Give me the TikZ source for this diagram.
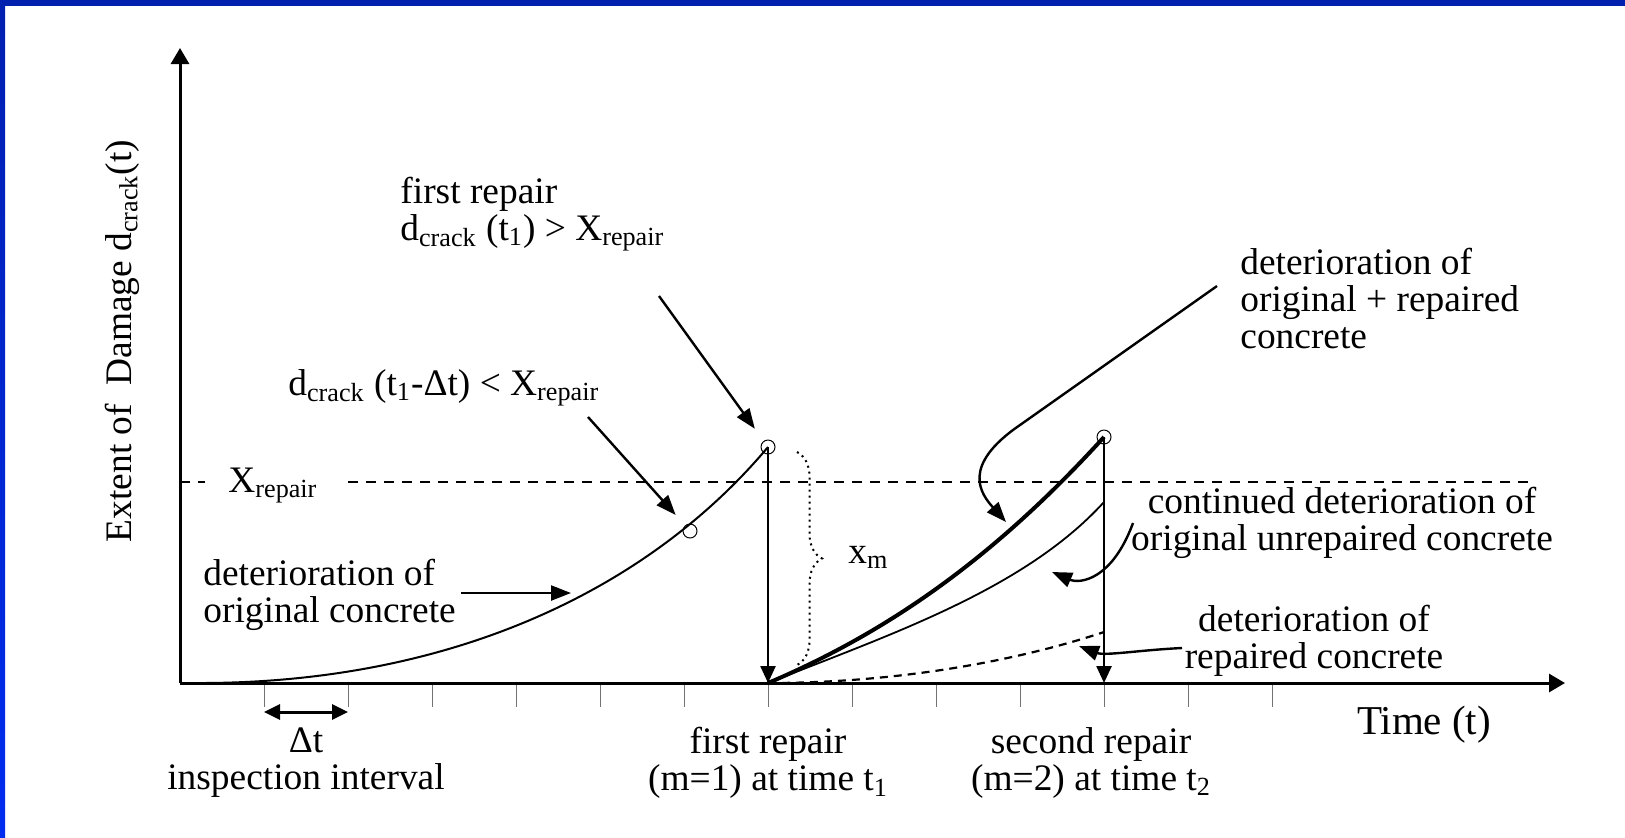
\documentclass[tikz,border=0pt]{standalone}
\usepackage{fontspec}
\setmainfont{Liberation Serif}
\usetikzlibrary{arrows.meta,decorations.pathreplacing}
\definecolor{frameblue}{RGB}{0,32,176}
\definecolor{framebright}{RGB}{0,44,240}
\newcommand{\labelfont}{\fontsize{18.7}{18.5}\selectfont}
\newcommand{\axisfont}{\fontsize{20.5}{20.5}\selectfont}

\begin{document}
\begin{tikzpicture}[
			x=0.5pt,y=-0.5pt,
			lbl/.style={inner sep=0pt,font=\labelfont,align=center},
			lbll/.style={lbl,align=left},
			axis/.style={line width=1.5pt,-{Triangle[length=8pt,width=9pt]}},
			tick/.style={line width=0.5pt,black!55},
			ring/.style={circle,draw,line width=0.5pt,minimum size=7pt,inner sep=0pt},
			drop/.style={line width=1.2pt,-{Triangle[length=8.5pt,width=7.5pt]}},
			note/.style={line width=1.2pt,-{Triangle[length=10pt,width=7.5pt]}},
			span/.style={line width=1.5pt,{Triangle[length=8pt,width=7.5pt]}-{Triangle[length=8pt,width=7.5pt]}},
			threshold/.style={line width=0.8pt,dash pattern=on 5pt off 4pt}
			]
			
			\useasboundingbox (0,0) rectangle (1625,837);
			\fill[frameblue] (0,0) rectangle (1625,6);
			\shade[top color=frameblue,bottom color=framebright] (0,0) rectangle (5,837);
			
			\coordinate (o) at (180,683);
			\coordinate (xend) at (1565,683);
			\coordinate (yend) at (180,48);
			\coordinate (r1) at (768,683);
			\coordinate (r2) at (1104,683);
			
			\foreach \k in {1,...,13}
				\draw[tick] ({180+84*\k},683) -- ({180+84*\k},707);
			\draw[axis] (o) -- (xend);
			\draw[axis] (o) -- (yend);
			
			\node[lbl,rotate=90] (ylab) at (122,341) {Extent of \ Damage d\textsubscript{crack}(t)};
			\node[lbl,font=\axisfont] (tlab) at (1424,725) {Time (t)};
			
			\coordinate (dt0) at (264,712);
			\coordinate (dt1) at (348,712);
			\draw[span] (dt0) -- (dt1);
			\node[lbl] (dtlab) at (306,763) {Δt\\inspection interval};
			\node[lbl] (rep1lab) at (768,763) {first repair\\(m=1) at time t\textsubscript{1}};
			\node[lbl] (rep2lab) at (1091,763) {second repair\\(m=2) at time t\textsubscript{2}};
			
			\node[lbl,anchor=base west] (xlab) at (228,492) {X\textsubscript{repair}};
			\coordinate (thr) at (180,482);
			\draw[threshold] (thr) -- ++(25,0);
			\draw[threshold] (348,482) -- (1530,482);
			
			\node[ring] (p0) at (690,531) {};
			\node[ring] (p1) at (768,447) {};
			\node[ring] (p2) at (1104,437) {};
			
			\draw[line width=1pt] (200,683) .. controls (450,683) and (647,591) .. (p1.center);
			\draw[line width=2pt] (r1) .. controls (888,632) and (994,558) .. (p2.center);
			\draw[line width=0.9pt] (r1) .. controls (888,635) and (1024,590) .. (1104,502);
			\draw[line width=1.1pt,dash pattern=on 4pt off 3pt] (r1) .. controls (900,683) and (1020,660) .. (1104,632);
			
			\draw[drop] (p1.center) -- (r1);
			\draw[drop] (p2.center) -- (r2);
			
			\draw[line width=1pt,dotted,decorate,decoration={brace,amplitude=12.5pt}] (797,452) -- (797,665);
			\node[lbl,anchor=base west] (xmlab) at (848,563) {x\textsubscript{m}};
			
			\node[lbll,anchor=west] (firstlab) at (400,214) {first repair\\d\textsubscript{crack} (t\textsubscript{1}) > X\textsubscript{repair}};
			\node[lbl,anchor=base west] (prevlab) at (288,395) {d\textsubscript{crack} (t\textsubscript{1}-Δt) < X\textsubscript{repair}};
			\node[lbll,anchor=west] (origlab) at (203,595) {deterioration of\\original concrete};
			\node[lbll,anchor=west] (bothlab) at (1240,299) {deterioration of\\original + repaired\\concrete};
			\node[lbl] (contlab) at (1342,523) {continued deterioration of\\original unrepaired concrete};
			\node[lbl] (replab) at (1314,641) {deterioration of\\repaired concrete};
			
			\coordinate (a1) at (659,296);
			\coordinate (a2) at (588,417);
			\coordinate (a3s) at (461,593);
			\coordinate (a3e) at (571,593);
			\coordinate (a4s) at (1217,286);
			\coordinate (a4e) at (1006,522);
			\coordinate (a5s) at (1133,523);
			\coordinate (a5e) at (1052,572);
			\coordinate (a6s) at (1182,648);
			\coordinate (a6e) at (1079,646);
			
			\draw[note,shorten >=7.5pt] (a1) -- (p1);
			\draw[note,shorten >=7pt] (a2) -- (p0);
			\draw[note] (a3s) -- (a3e);
			\draw[note] (a4s) -- (1020,425) .. controls (960,466) and (981,494) .. (a4e);
			\draw[note] (a5s) .. controls (1112,580) and (1080,584) .. (a5e);
			\draw[note] (a6s) .. controls (1140,650) and (1105,656) .. (a6e);
			
		\end{tikzpicture}
\end{document}
